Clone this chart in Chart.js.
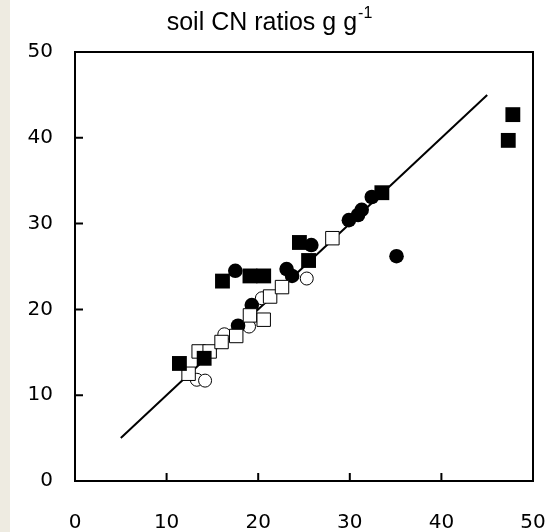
<!DOCTYPE html>
<html>
<head>
<meta charset="utf-8">
<script src="https://cdn.jsdelivr.net/npm/chart.js@4"></script>
<style>
  html, body { margin: 0; padding: 0; background: #eeebe1; }
  #wrap { position: absolute; left: 10px; top: 0; width: 540px; height: 532px; background: #ffffff; }
</style>
</head>
<body>
<div id="wrap"><canvas id="myChart"></canvas></div>
<script>
const titleMain = 'soil CN ratios g g';
const titleSup = '-1';
const xTicks = [0, 10, 20, 30, 40, 50];
const yTicks = [0, 10, 20, 30, 40, 50];

// 1:1 line
const lineX = [5, 45];
const lineY = [5, 45];

// filled squares
const fSqX = [11.4, 14.1, 16.1, 19.1, 20.6, 24.5, 25.5, 33.5, 47.3, 47.8];
const fSqY = [13.7, 14.3, 23.3, 23.9, 23.9, 27.8, 25.7, 33.6, 39.7, 42.7];

// open squares
const oSqX = [12.4, 13.5, 14.7, 16.0, 17.6, 19.1, 20.6, 21.3, 22.6, 28.1];
const oSqY = [12.5, 15.1, 15.1, 16.2, 16.9, 19.3, 18.8, 21.5, 22.6, 28.3];

// filled circles
const fCiX = [17.5, 23.1, 23.7, 25.8, 19.3, 17.8, 29.9, 30.9, 31.3, 32.4, 35.1];
const fCiY = [24.5, 24.7, 23.9, 27.5, 20.5, 18.1, 30.4, 31.0, 31.6, 33.1, 26.2];

// open circles
const oCiX = [13.3, 14.2, 16.3, 19.0, 20.4, 25.3];
const oCiY = [11.8, 11.7, 17.1, 18.0, 21.3, 23.6];

function pts(xs, ys) {
    return xs.map((x, i) => ({ x: x, y: ys[i] }));
}

const framePlugin = {
    id: 'frame',
    afterDraw(chart) {
        const ctx = chart.ctx;
        const a = chart.chartArea;
        const xs = chart.scales.x;
        const ys = chart.scales.y;
        ctx.save();
        ctx.strokeStyle = '#000';
        ctx.lineWidth = 2;
        ctx.strokeRect(a.left, a.top, a.right - a.left, a.bottom - a.top);
        ctx.beginPath();
        xTicks.slice(1, -1).forEach(v => {
            const px = xs.getPixelForValue(v);
            ctx.moveTo(px, a.bottom);
            ctx.lineTo(px, a.bottom - 8);
        });
        yTicks.slice(1, -1).forEach(v => {
            const py = ys.getPixelForValue(v);
            ctx.moveTo(a.left, py);
            ctx.lineTo(a.left + 8, py);
        });
        ctx.stroke();

        // title with superscript
        ctx.fillStyle = '#000';
        ctx.textBaseline = 'alphabetic';
        ctx.font = '25px "Liberation Sans", Arial, sans-serif';
        const w1 = ctx.measureText(titleMain).width;
        ctx.font = '16px "Liberation Sans", Arial, sans-serif';
        const w2 = ctx.measureText(titleSup).width;
        const x0 = 259 - (w1 + w2) / 2;
        ctx.font = '25px "Liberation Sans", Arial, sans-serif';
        ctx.textAlign = 'left';
        ctx.fillText(titleMain, x0, 30);
        ctx.font = '16px "Liberation Sans", Arial, sans-serif';
        ctx.fillText(titleSup, x0 + w1 + 1, 18);
        ctx.restore();
    }
};

const ctx1 = document.getElementById('myChart').getContext('2d');
const config1 = {
    type: 'scatter',
    data: {
        datasets: [
            {
                label: 'filled squares',
                data: pts(fSqX, fSqY),
                pointStyle: 'rect',
                pointRadius: 10.5,
                backgroundColor: '#000',
                borderColor: '#000',
                borderWidth: 0,
                order: 1
            },
            {
                label: 'open squares',
                data: pts(oSqX, oSqY),
                pointStyle: 'rect',
                pointRadius: 9.5,
                backgroundColor: '#fff',
                borderColor: '#000',
                borderWidth: 1,
                order: 2
            },
            {
                label: 'filled circles',
                data: pts(fCiX, fCiY),
                pointStyle: 'circle',
                pointRadius: 7.3,
                backgroundColor: '#000',
                borderColor: '#000',
                borderWidth: 0,
                order: 3
            },
            {
                label: 'open circles',
                data: pts(oCiX, oCiY),
                pointStyle: 'circle',
                pointRadius: 6.5,
                backgroundColor: '#fff',
                borderColor: '#000',
                borderWidth: 1,
                order: 4
            },
            {
                label: '1:1',
                data: pts(lineX, lineY),
                showLine: true,
                pointRadius: 0,
                borderColor: '#000',
                borderWidth: 2,
                order: 5
            }
        ]
    },
    options: {
        responsive: true,
        maintainAspectRatio: false,
        animation: false,
        layout: {
            padding: { top: 52, right: 17, left: 0, bottom: 0 }
        },
        plugins: {
            legend: { display: false },
            tooltip: { enabled: false }
        },
        scales: {
            x: {
                type: 'linear',
                min: 0,
                max: 50,
                afterBuildTicks: s => { s.ticks = xTicks.map(v => ({ value: v })); },
                afterFit: s => {
                    s.height = 51;
                    s.paddingLeft = 0;
                    s.paddingRight = 0;
                },
                ticks: {
                    color: '#000',
                    font: { family: '"DejaVu Sans", Verdana, sans-serif', size: 20 },
                    padding: 30,
                    maxRotation: 0
                },
                grid: { display: false, drawTicks: false },
                border: { display: false }
            },
            y: {
                type: 'linear',
                min: 0,
                max: 50,
                afterBuildTicks: s => { s.ticks = yTicks.map(v => ({ value: v })); },
                afterFit: s => {
                    s.width = 65;
                    s.paddingTop = 0;
                    s.paddingBottom = 0;
                },
                ticks: {
                    color: '#000',
                    font: { family: '"DejaVu Sans", Verdana, sans-serif', size: 20 },
                    padding: 22
                },
                grid: { display: false, drawTicks: false },
                border: { display: false }
            }
        }
    },
    plugins: [framePlugin]
};
const myChart = new Chart(ctx1, config1);
</script>
</body>
</html>
